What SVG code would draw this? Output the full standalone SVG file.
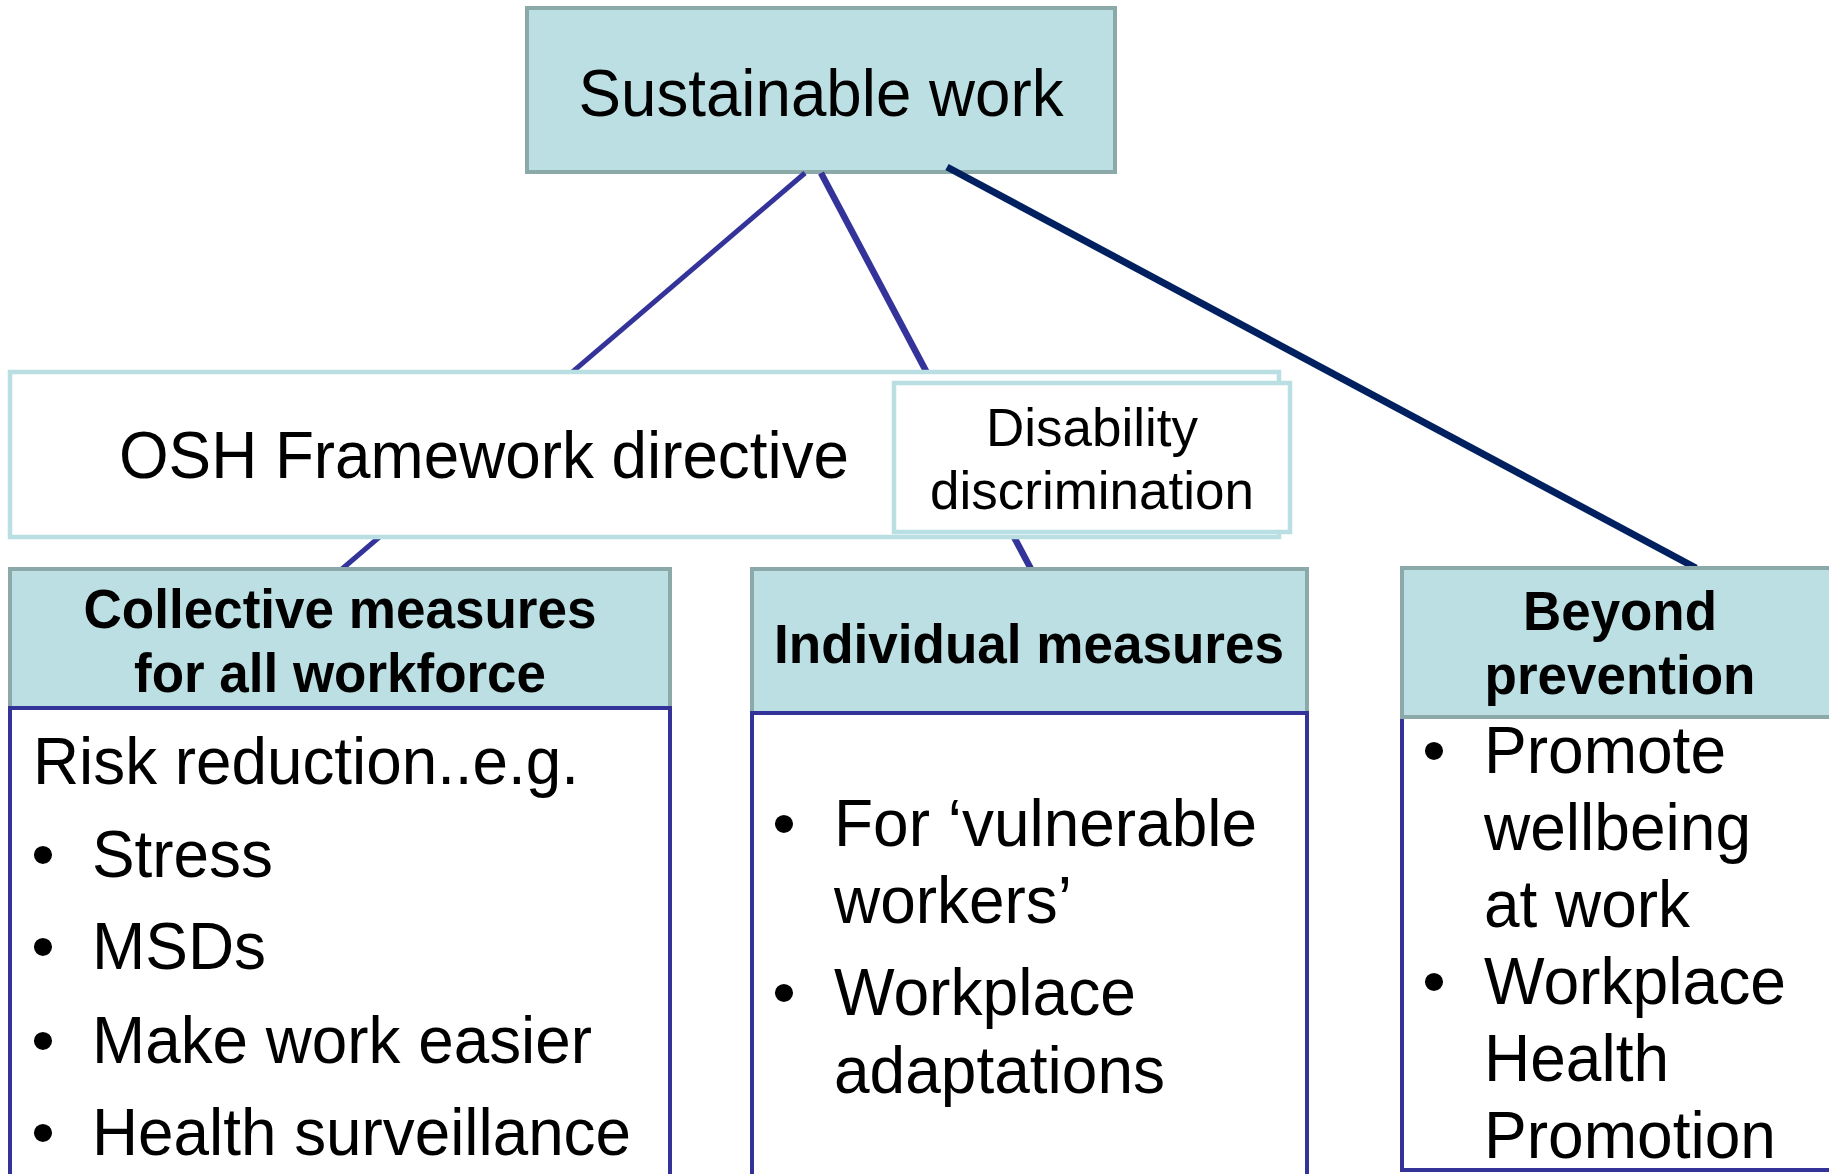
<svg xmlns="http://www.w3.org/2000/svg" width="1829" height="1174" viewBox="0 0 1829 1174">
<style>
.t{font-family:"Liberation Sans",Arial,sans-serif;fill:#000}
.big{font-size:67px}
.hd{font-size:55px;font-weight:bold}
.mid{font-size:53px}
.hdr{fill:#bbdfe2;stroke:#8ca9aa;stroke-width:4}
.body{fill:#fff;stroke:#333399;stroke-width:4}
.lite{fill:#fff;stroke:#b9dfe2;stroke-width:4.5}
.c{text-anchor:middle}
</style>
<rect width="1829" height="1174" fill="#fff"/>
<g id="sustainable-work">
<rect class="hdr" x="527" y="8" width="588" height="164"/>
<text class="t big c" x="821" y="116" textLength="485" lengthAdjust="spacingAndGlyphs">Sustainable work</text>
</g>
<g id="connectors" fill="none" stroke-linecap="butt">
<line x1="805" y1="173" x2="342" y2="569" stroke="#333399" stroke-width="5"/>
<line x1="821" y1="173" x2="1031" y2="569" stroke="#333399" stroke-width="6.5"/>
<line x1="947" y1="167" x2="1696" y2="568" stroke="#002060" stroke-width="7"/>
</g>
<g id="osh-framework">
<rect class="lite" x="10" y="372" width="1269" height="165"/>
<text class="t big c" x="484" y="478" textLength="730" lengthAdjust="spacingAndGlyphs">OSH Framework directive</text>
</g>
<g id="disability">
<rect class="lite" x="894" y="383" width="396" height="149"/>
<text class="t mid c" x="1092" y="446">Disability</text>
<text class="t mid c" x="1092" y="509">discrimination</text>
</g>
<g id="collective">
<rect class="hdr" x="10" y="569" width="660" height="139"/>
<rect class="body" x="10" y="708" width="660" height="480"/>
<text class="t hd c" x="340" y="628" textLength="513" lengthAdjust="spacingAndGlyphs">Collective measures</text>
<text class="t hd c" x="340" y="692" textLength="412" lengthAdjust="spacingAndGlyphs">for all workforce</text>
<text class="t big" x="33" y="784" textLength="546" lengthAdjust="spacingAndGlyphs">Risk reduction..e.g.</text>
<text class="t big c" x="43" y="877">•</text><text class="t big" x="92" y="877" textLength="181" lengthAdjust="spacingAndGlyphs">Stress</text>
<text class="t big c" x="43" y="969">•</text><text class="t big" x="92" y="969" textLength="174" lengthAdjust="spacingAndGlyphs">MSDs</text>
<text class="t big c" x="43" y="1063">•</text><text class="t big" x="92" y="1063" textLength="500" lengthAdjust="spacingAndGlyphs">Make work easier</text>
<text class="t big c" x="43" y="1155">•</text><text class="t big" x="92" y="1155" textLength="539" lengthAdjust="spacingAndGlyphs">Health surveillance</text>
</g>
<g id="individual">
<rect class="hdr" x="752" y="569" width="555" height="144"/>
<rect class="body" x="752" y="713" width="555" height="475"/>
<text class="t hd c" x="1029" y="663" textLength="510" lengthAdjust="spacingAndGlyphs">Individual measures</text>
<text class="t big c" x="784" y="846">•</text><text class="t big" x="834" y="846" textLength="423" lengthAdjust="spacingAndGlyphs">For ‘vulnerable</text>
<text class="t big" x="834" y="923" textLength="238" lengthAdjust="spacingAndGlyphs">workers’</text>
<text class="t big c" x="784" y="1015">•</text><text class="t big" x="834" y="1015" textLength="302" lengthAdjust="spacingAndGlyphs">Workplace</text>
<text class="t big" x="834" y="1093" textLength="331" lengthAdjust="spacingAndGlyphs">adaptations</text>
</g>
<g id="beyond">
<rect class="body" x="1402" y="717" width="440" height="453"/>
<rect class="hdr" x="1402" y="568" width="440" height="149"/>
<text class="t hd c" x="1620" y="630" textLength="194" lengthAdjust="spacingAndGlyphs">Beyond</text>
<text class="t hd c" x="1620" y="694" textLength="271" lengthAdjust="spacingAndGlyphs">prevention</text>
<text class="t big c" x="1434" y="773">•</text><text class="t big" x="1484" y="773" textLength="242" lengthAdjust="spacingAndGlyphs">Promote</text>
<text class="t big" x="1484" y="850" textLength="267" lengthAdjust="spacingAndGlyphs">wellbeing</text>
<text class="t big" x="1484" y="927" textLength="206" lengthAdjust="spacingAndGlyphs">at work</text>
<text class="t big c" x="1434" y="1004">•</text><text class="t big" x="1484" y="1004" textLength="302" lengthAdjust="spacingAndGlyphs">Workplace</text>
<text class="t big" x="1484" y="1081" textLength="185" lengthAdjust="spacingAndGlyphs">Health</text>
<text class="t big" x="1484" y="1158" textLength="292" lengthAdjust="spacingAndGlyphs">Promotion</text>
</g>
</svg>
